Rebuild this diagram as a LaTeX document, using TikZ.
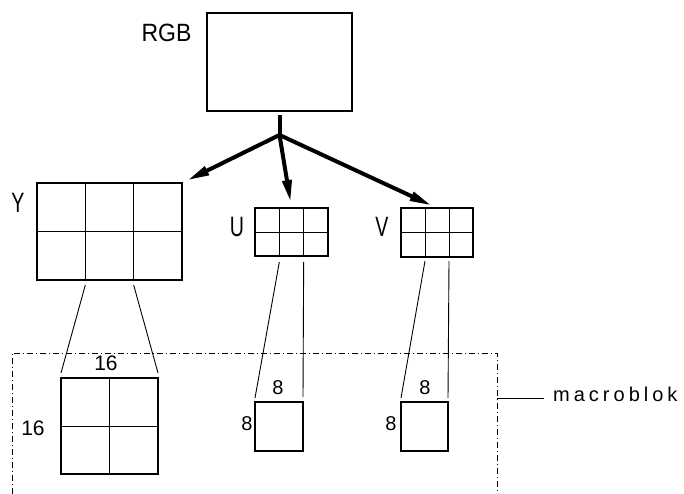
\documentclass[tikz,border=0pt]{standalone}
\usepackage{fontspec}
\setmainfont{Liberation Sans}
\newfontfamily\spacedfont[LetterSpace=20]{Liberation Sans}
\usetikzlibrary{arrows.meta,calc}
\begin{document}
\begin{tikzpicture}[x=1pt,y=-1pt,
  box/.style={draw,line width=1.3pt,inner sep=0pt,outer sep=0pt},
  inner/.style={line width=1pt},
  conn/.style={line width=0.9pt},
  bigarrow/.style={line width=4pt,-{Triangle[length=22pt,width=9pt]},shorten >=6pt},
  lbl/.style={inner sep=0pt,font=\fontsize{28}{28}\selectfont},
  num/.style={inner sep=0pt,font=\fontsize{20}{20}\selectfont},
  dashdot/.style={line width=0.8pt,dash pattern=on 6pt off 3pt on 1pt off 3pt}]
\useasboundingbox (0,0) rectangle (684,494);
% RGB
\node[box,minimum width=145pt,minimum height=98pt] (RGB) at (279.5,62) {};
\node[inner sep=0pt,font=\fontsize{25}{25}\selectfont] (tRGB) at (166.5,33) {\scalebox{0.92}[1]{RGB}};
% Y grid
\node[box,minimum width=145pt,minimum height=97pt] (Y) at (109.5,231.5) {};
\draw[inner] (Y.west) -- (Y.east);
\draw[inner] ($(Y.north west)!1/3!(Y.north east)$) -- ($(Y.south west)!1/3!(Y.south east)$);
\draw[inner] ($(Y.north west)!2/3!(Y.north east)$) -- ($(Y.south west)!2/3!(Y.south east)$);
\node[lbl] (tY) at (18,203) {\scalebox{0.7}[1]{Y}};
% U grid
\node[box,minimum width=73pt,minimum height=48pt] (U) at (291.5,232) {};
\draw[inner] (U.west) -- (U.east);
\draw[inner] ($(U.north west)!1/3!(U.north east)$) -- ($(U.south west)!1/3!(U.south east)$);
\draw[inner] ($(U.north west)!2/3!(U.north east)$) -- ($(U.south west)!2/3!(U.south east)$);
\node[lbl] (tU) at (237,227) {\scalebox{0.7}[1]{U}};
% V grid
\node[box,minimum width=72pt,minimum height=49pt] (V) at (437,232.5) {};
\draw[inner] (V.west) -- (V.east);
\draw[inner] ($(V.north west)!1/3!(V.north east)$) -- ($(V.south west)!1/3!(V.south east)$);
\draw[inner] ($(V.north west)!2/3!(V.north east)$) -- ($(V.south west)!2/3!(V.south east)$);
\node[lbl] (tV) at (382,227) {\scalebox{0.7}[1]{V}};
% arrows
\coordinate (j) at (279.5,135);
\draw[line width=4pt] ($(RGB.south)+(0,4)$) -- (j);
\draw[bigarrow] (j) -- (Y.north east);
\draw[bigarrow] (j) -- (U.north);
\draw[bigarrow] (j) -- (V.north);
% macroblocks
\node[box,minimum width=97pt,minimum height=96pt] (MY) at (109.5,426) {};
\draw[inner] (MY.west) -- (MY.east);
\draw[inner] (MY.north) -- (MY.south);
\node[box,minimum width=48pt,minimum height=49pt] (MU) at (279,426.5) {};
\node[box,minimum width=47pt,minimum height=49pt] (MV) at (424.5,426.5) {};
% dimension labels
\node[num,font=\fontsize{21}{21}\selectfont] (tYt) at (106,363) {16};
\node[num,font=\fontsize{21}{21}\selectfont] (tYl) at (33,428) {16};
\node[num] (tUt) at (278,388) {8};
\node[num] (tUl) at (247,424) {8};
\node[num] (tVt) at (425,388) {8};
\node[num] (tVl) at (391,424) {8};
% projection lines
\draw[conn] ($(Y.south west)!1/3!(Y.south east)+(0,5)$) -- ($(MY.north west)+(0,-5)$);
\draw[conn] ($(Y.south west)!2/3!(Y.south east)+(0,5)$) -- ($(MY.north east)+(0,-5)$);
\draw[conn] ($(U.south west)!1/3!(U.south east)+(0,6)$) -- ($(MU.north west)+(0,-4)$);
\draw[conn] ($(U.south west)!2/3!(U.south east)+(0,6)$) -- ($(MU.north east)+(0,-5)$);
\draw[conn] ($(V.south west)!1/3!(V.south east)+(0,4)$) -- ($(MV.north west)+(0,-4)$);
\draw[conn] ($(V.south west)!2/3!(V.south east)+(0,4)$) -- ($(MV.north east)+(0,-4)$);
% dashed macroblock region
\coordinate (dbl) at (12,494);
\coordinate (dtl) at (12,353);
\coordinate (dtr) at (497,353);
\coordinate (dbr) at (497,494);
\draw[dashdot] (dbl) -- (dtl) -- (dtr) -- (dbr);
\coordinate (dm) at (497,398);
\node[inner sep=0pt,anchor=base west,font=\spacedfont\fontsize{20}{20}\selectfont] (tM) at (553,401) {macroblok};
\coordinate (lm) at (544,398);
\draw[line width=0.9pt] (dm) -- (lm);
\end{tikzpicture}
\end{document}
